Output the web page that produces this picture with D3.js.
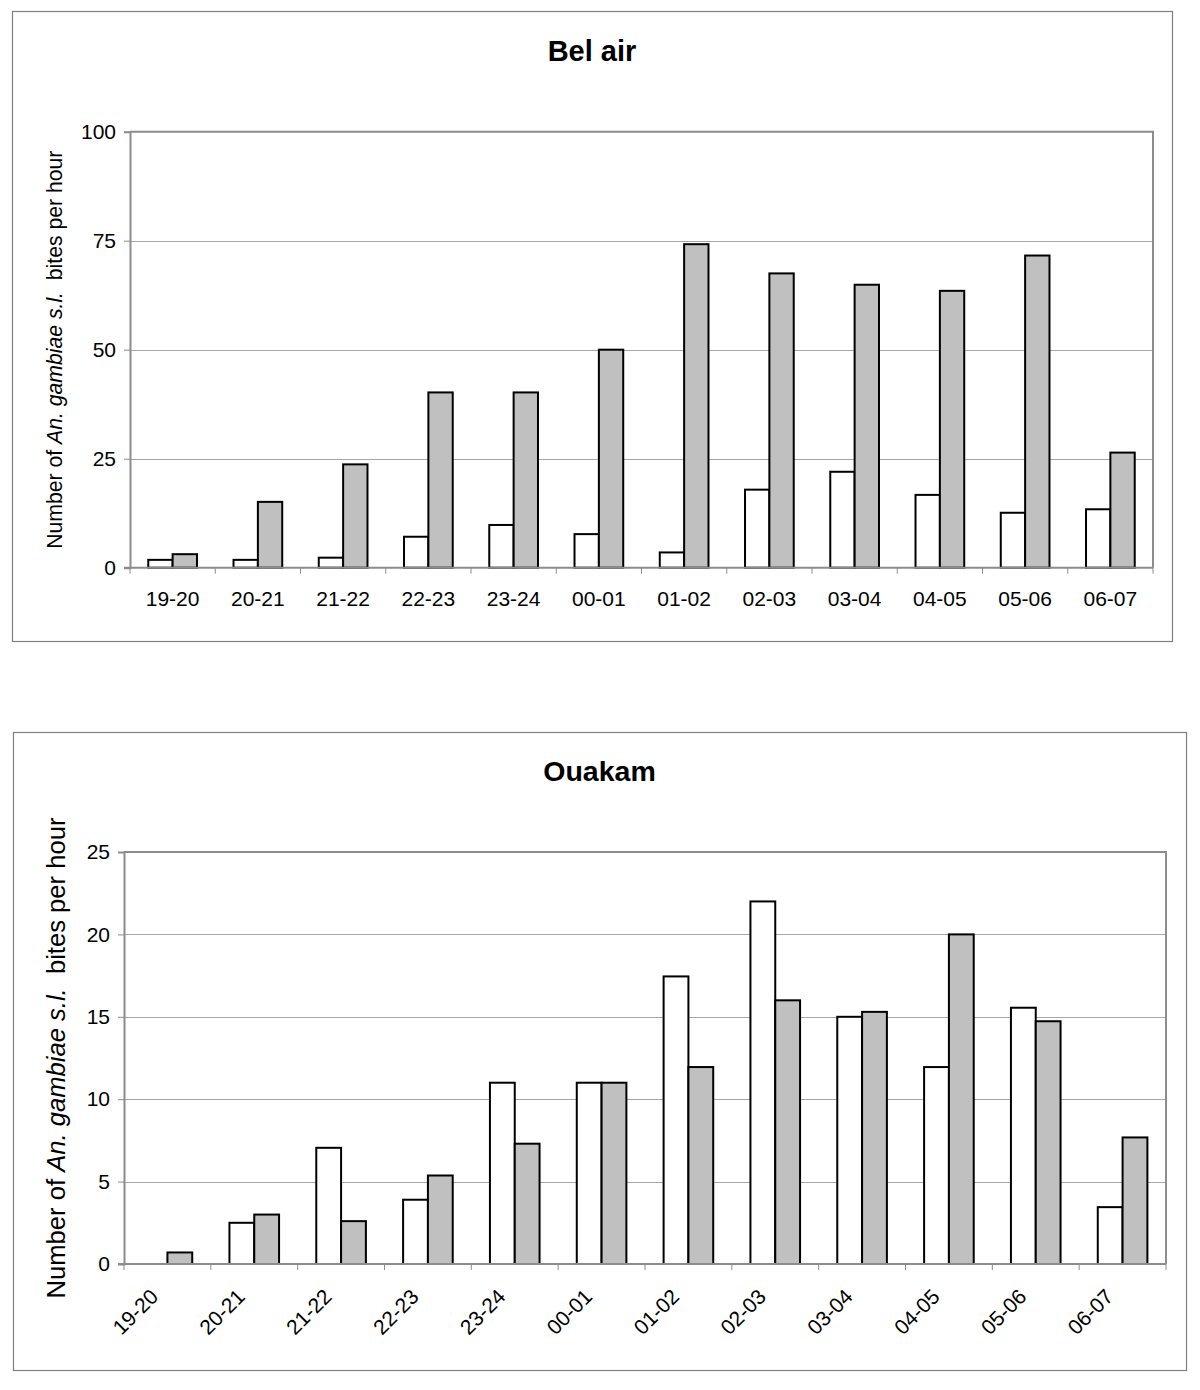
<!DOCTYPE html>
<html>
<head>
<meta charset="utf-8">
<script src="https://cdn.jsdelivr.net/npm/d3@7"></script>
<style>
  html, body { margin: 0; padding: 0; background: #fff; }
  svg { display: block; }
  text { font-family: "Liberation Sans", Arial, Helvetica, sans-serif; fill: #000; }
</style>
</head>
<body>
<svg id="chart" width="1200" height="1390"></svg>
<script>
// ---- data ----
const categories = ["19-20","20-21","21-22","22-23","23-24","00-01","01-02","02-03","03-04","04-05","05-06","06-07"];
const belAirWhite = [1.8, 1.8, 2.3, 7.1, 9.8, 7.7, 3.5, 17.9, 22.0, 16.7, 12.6, 13.4];
const belAirGrey  = [3.1, 15.1, 23.7, 40.2, 40.2, 50.0, 74.2, 67.5, 64.9, 63.5, 71.6, 26.4];
const ouakamWhite = [0, 2.5, 7.05, 3.9, 11.0, 11.0, 17.45, 22.0, 15.0, 11.95, 15.55, 3.45];
const ouakamGrey  = [0.7, 3.0, 2.6, 5.37, 7.3, 11.0, 11.95, 16.0, 15.3, 20.0, 14.73, 7.68];
const belAirTicks = [0, 25, 50, 75, 100];
const ouakamTicks = [0, 5, 10, 15, 20, 25];
const seriesNames = ["white", "grey"];
const seriesFills = ["#ffffff", "#c0c0c0"];
const titles = ["Bel air", "Ouakam"];
const yLabelParts = [
  {t: "Number of ", italic: false},
  {t: "An. gambiae s.l.", italic: true},
  {t: "  bites per hour", italic: false}
];

const svg = d3.select("#chart");

function drawChart(o) {
  const g = svg.append("g");
  // outer frame
  g.append("rect")
    .attr("x", o.frame[0] + 0.5).attr("y", o.frame[1] + 0.5)
    .attr("width", o.frame[2]).attr("height", o.frame[3])
    .attr("fill", "#fff").attr("stroke", "#808080").attr("stroke-width", 1.2);

  // title
  g.append("text")
    .attr("x", o.frame[0] + o.frame[2] / 2).attr("y", o.titleY)
    .attr("text-anchor", "middle")
    .attr("font-size", o.titleSize).attr("font-weight", "bold")
    .text(o.title);

  const x = d3.scaleBand().domain(categories).range([o.left, o.right]).paddingInner(0).paddingOuter(0);
  const y = d3.scaleLinear().domain([0, o.max]).range([o.bottom, o.top]);
  const bw = x.bandwidth() / 3.5;
  const xs = d3.scaleBand().domain(seriesNames).range([x.bandwidth() / 2 - bw, x.bandwidth() / 2 + bw]);

  // gridlines
  g.append("g").selectAll("line")
    .data(o.ticks.filter(t => t > 0 && t < o.max))
    .join("line")
    .attr("x1", o.left).attr("x2", o.right)
    .attr("y1", d => Math.round(y(d)) + 0.5).attr("y2", d => Math.round(y(d)) + 0.5)
    .attr("stroke", "#a6a6a6").attr("stroke-width", 1);

  // plot border top & right
  g.append("path")
    .attr("d", `M${o.left},${o.top}H${o.right}V${o.bottom}`)
    .attr("fill", "none").attr("stroke", "#8c8c8c").attr("stroke-width", 2);

  // bars
  const rows = categories.map((c, i) => ({c, vals: [o.white[i], o.grey[i]]}));
  const groups = g.append("g").selectAll("g")
    .data(rows).join("g")
    .attr("transform", d => `translate(${x(d.c)},0)`);
  groups.selectAll("rect")
    .data(d => d.vals.map((v, k) => ({v, k})).filter(e => e.v > 0))
    .join("rect")
    .attr("x", e => xs(seriesNames[e.k]))
    .attr("width", xs.bandwidth())
    .attr("y", e => y(e.v))
    .attr("height", e => y(0) - y(e.v))
    .attr("fill", e => seriesFills[e.k])
    .attr("stroke", "#000").attr("stroke-width", 2);

  // y axis
  const yAxis = d3.axisLeft(y).tickValues(o.ticks).tickSize(6).tickPadding(8).tickFormat(d3.format("d"));
  const ya = g.append("g").attr("transform", `translate(${o.left},0)`).call(yAxis);
  ya.select(".domain").attr("stroke", "#8c8c8c").attr("stroke-width", 2);
  ya.selectAll(".tick line").attr("stroke", "#8c8c8c").attr("stroke-width", 1);
  ya.selectAll(".tick text").attr("font-size", o.tickSize).attr("font-family", "Liberation Sans, Arial, sans-serif");

  // x axis: ticks at category boundaries
  const xa = g.append("g").attr("transform", `translate(0,${o.bottom})`);
  xa.append("line").attr("x1", o.left - 6).attr("x2", o.right).attr("y1", 0).attr("y2", 0)
    .attr("stroke", "#8c8c8c").attr("stroke-width", 2);
  const bounds = categories.map(c => x(c)).concat([o.right]);
  xa.selectAll("line.tk").data(bounds).join("line").attr("class", "tk")
    .attr("x1", d => d).attr("x2", d => d).attr("y1", 0).attr("y2", 6)
    .attr("stroke", "#8c8c8c").attr("stroke-width", 1);
  if (o.rotate) {
    xa.selectAll("text").data(categories).join("text")
      .attr("transform", d => `translate(${x(d) + x.bandwidth() / 2 - 8},${o.xLabelY}) rotate(-45)`)
      .attr("text-anchor", "end")
      .attr("font-size", o.xTickSize)
      .text(d => d);
  } else {
    xa.selectAll("text").data(categories).join("text")
      .attr("x", d => x(d) + x.bandwidth() / 2).attr("y", o.xLabelY)
      .attr("text-anchor", "middle")
      .attr("font-size", o.xTickSize)
      .text(d => d);
  }

  // y label
  const yl = g.append("text")
    .attr("transform", `translate(${o.yLabelX},${(o.top + o.bottom) / 2}) rotate(-90)`)
    .attr("text-anchor", "middle")
    .attr("font-size", o.yLabelSize)
    .style("white-space", "pre");
  yl.selectAll("tspan").data(yLabelParts).join("tspan")
    .attr("font-style", d => d.italic ? "italic" : "normal")
    .text(d => d.t);
}

drawChart({
  frame: [12, 11, 1160, 630],
  title: titles[0], titleY: 61, titleSize: 29,
  left: 130, right: 1153, top: 131.7, bottom: 567.7,
  max: 100, ticks: belAirTicks,
  white: belAirWhite, grey: belAirGrey,
  tickSize: 21, xTickSize: 21, xLabelY: 38, rotate: false,
  yLabelX: 62, yLabelSize: 21.2
});

drawChart({
  frame: [13, 732, 1173, 638],
  title: titles[1], titleY: 781, titleSize: 28.5,
  left: 124, right: 1166, top: 852, bottom: 1264,
  max: 25, ticks: ouakamTicks,
  white: ouakamWhite, grey: ouakamGrey,
  tickSize: 21, xTickSize: 21, xLabelY: 34, rotate: true,
  yLabelX: 65, yLabelSize: 25.6
});
</script>
</body>
</html>
